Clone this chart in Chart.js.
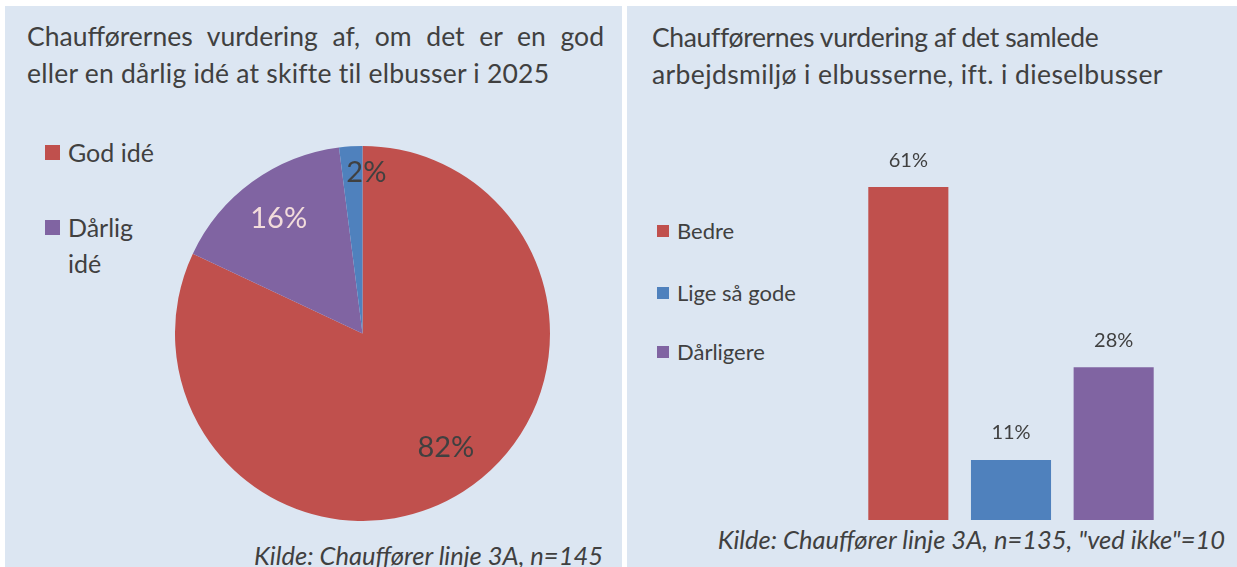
<!DOCTYPE html>
<html>
<head>
<meta charset="utf-8">
<script src="https://cdn.jsdelivr.net/npm/chart.js@4"></script>
<style>
  body { margin: 0; width: 1237px; height: 567px; overflow: hidden; background: #fff; font-family: Lato, "Open Sans", sans-serif; color: #404040; position: relative; }
  .panel { position: absolute; top: 6px; height: 561px; background: #dce6f2; }
  .abs { position: absolute; }
  .title { font-size: 26.5px; line-height: 37px; color: #404040; white-space: nowrap; }
  .src { font-style: italic; font-size: 25.5px; white-space: nowrap; }
  .leg { position: absolute; display: flex; align-items: flex-start; }
  .leg .sw { flex: none; }
</style>
</head>
<body>
<div class="panel" style="left:5px; width:617px;"></div>
<div class="panel" style="left:627px; width:610px;"></div>

<div class="abs title" style="left:27px; top:18px; width:577px; text-align:justify; text-align-last:justify; white-space:normal;">Chaufførernes vurdering af, om det er en god</div>
<div class="abs title" style="left:27px; top:55px; letter-spacing:0.23px;">eller en dårlig idé at skifte til elbusser i 2025</div>
<div class="abs title" style="left:652px; top:19px; letter-spacing:-0.35px;">Chaufførernes vurdering af det samlede</div>
<div class="abs title" style="left:652px; top:56px; letter-spacing:0.4px;">arbejdsmiljø i elbusserne, ift. i dieselbusser</div>

<div id="pieLegend"></div>
<div id="barLegend"></div>

<div class="abs" style="left:175px; top:146px; width:375px; height:375px;"><canvas id="pie"></canvas></div>
<div class="abs" style="left:857px; top:138px; width:308px; height:382px;"><canvas id="bar"></canvas></div>

<div class="abs src" style="right:634px; top:540px;">Kilde: Chauffører linje 3A, n=145</div>
<div class="abs src" style="right:12px; top:524px;">Kilde: Chauffører linje 3A, n=135, "ved ikke"=10</div>

<script>
// venstre: god/dårlig idé
const pieLabels = ['God idé', 'Dårlig idé', 'Ved ikke'];
const pieValues = [82, 16, 2];
const pieColors = ['#c0504d', '#8064a2', '#4f81bd'];
const pieLegendItems = ['God idé', 'Dårlig idé'];

// højre: arbejdsmiljø
const barLabels = ['Bedre', 'Lige så gode', 'Dårligere'];
const barValues = [61, 11, 28];
const barColors = ['#c0504d', '#4f81bd', '#8064a2'];

// legender
function lavLegend(el, items, colors, x, ys, sq, size, width) {
    items.forEach((txt, i) => {
        const d = document.createElement('div');
        d.className = 'leg';
        d.style.left = x + 'px';
        d.style.top = ys[i] + 'px';
        d.style.width = width + 'px';
        d.style.fontSize = size + 'px';
        d.style.lineHeight = Math.round(size * 1.45) + 'px';
        const sw = document.createElement('span');
        sw.className = 'sw';
        sw.style.width = sq + 'px';
        sw.style.height = sq + 'px';
        sw.style.background = colors[i];
        sw.style.marginTop = Math.round((size * 1.45 - sq) / 2) + 'px';
        sw.style.marginRight = '8px';
        const t = document.createElement('span');
        t.textContent = txt;
        d.appendChild(sw);
        d.appendChild(t);
        el.appendChild(d);
    });
}
lavLegend(document.getElementById('pieLegend'), pieLegendItems, pieColors, 45, [134, 209], 15, 25, 120);
lavLegend(document.getElementById('barLegend'), barLabels, barColors, 657, [215, 277, 336], 12, 22, 220);

const pieLabelPlugin = {
    id: 'pieLabels',
    afterDatasetsDraw(chart) {
        const ctx = chart.ctx;
        const meta = chart.getDatasetMeta(0);
        const farver = ['#404040', '#f2dcdb', '#404040'];
        const afstand = [0.75, 0.76, 0.86];
        const dx = [8, 0, 14];
        const dy = [-5, 0, 0];
        ctx.save();
        ctx.font = '29px Lato, "Open Sans", sans-serif';
        ctx.textAlign = 'center';
        ctx.textBaseline = 'middle';
        meta.data.forEach((arc, i) => {
            const p = arc.getProps(['x', 'y', 'startAngle', 'endAngle', 'outerRadius'], true);
            const a = (p.startAngle + p.endAngle) / 2;
            const r = p.outerRadius * afstand[i];
            ctx.fillStyle = farver[i];
            ctx.fillText(pieValues[i] + '%', p.x + Math.cos(a) * r + dx[i], p.y + Math.sin(a) * r + dy[i]);
        });
        ctx.restore();
    }
};

const barLabelPlugin = {
    id: 'barLabels',
    afterDatasetsDraw(chart) {
        const ctx = chart.ctx;
        const meta = chart.getDatasetMeta(0);
        ctx.save();
        ctx.font = '20px Lato, "Open Sans", sans-serif';
        ctx.fillStyle = '#404040';
        ctx.textAlign = 'center';
        ctx.textBaseline = 'middle';
        meta.data.forEach((bar, i) => {
            ctx.fillText(barValues[i] + '%', bar.x, bar.y - 27);
        });
        ctx.restore();
    }
};

new Chart(document.getElementById('pie'), {
    type: 'pie',
    data: {
        labels: pieLabels,
        datasets: [{ data: pieValues, backgroundColor: pieColors, borderWidth: 0 }]
    },
    options: {
        responsive: true,
        maintainAspectRatio: false,
        animation: false,
        layout: { padding: 0 },
        plugins: { legend: { display: false }, tooltip: { enabled: false } }
    },
    plugins: [pieLabelPlugin]
});

new Chart(document.getElementById('bar'), {
    type: 'bar',
    data: {
        labels: barLabels,
        datasets: [{ data: barValues, backgroundColor: barColors, borderWidth: 0, barPercentage: 0.78, categoryPercentage: 1 }]
    },
    options: {
        responsive: true,
        maintainAspectRatio: false,
        animation: false,
        layout: { padding: 0 },
        scales: {
            x: { display: false },
            y: { display: false, min: 0, max: 70 }
        },
        plugins: { legend: { display: false }, tooltip: { enabled: false } }
    },
    plugins: [barLabelPlugin]
});
</script>
</body>
</html>
